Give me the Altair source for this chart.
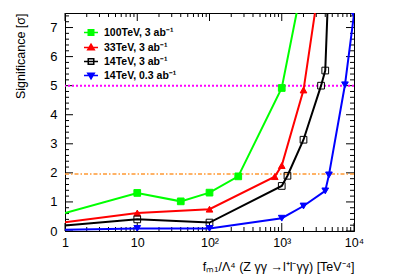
import altair as alt
import pandas as pd

# ---------------- data ----------------
series_names = ["100TeV, 3 ab⁻¹", "33TeV, 3 ab⁻¹", "14TeV, 3 ab⁻¹", "14TeV, 0.3 ab⁻¹"]
colors = ["#00ff00", "#ff0000", "#000000", "#0000ff"]
fills = ["#00ff00", "#ff0000", "transparent", "#0000ff"]
marker_shapes = ["square", "triangle-up", "square", "triangle-down"]
legend_paths = [
    "M-1.4,0H1.4M-0.55,-0.55H0.55V0.55H-0.55Z",
    "M-1.4,0H1.4M0,-0.65L0.65,0.45L-0.65,0.45Z",
    "M-1.4,0H1.4M-0.55,-0.55H0.55V0.55H-0.55Z",
    "M-1.4,0H1.4M0,0.65L0.65,-0.45L-0.65,-0.45Z",
]

x_100 = [1, 10, 40, 100, 250, 1000, 2000]
y_100 = [0.62, 1.31, 1.02, 1.32, 1.88, 4.92, 8.7]
x_33 = [1, 10, 100, 800, 1000, 2000, 3000]
y_33 = [0.30, 0.62, 0.75, 1.87, 2.25, 4.85, 7.8]
x_14 = [1, 10, 100, 1000, 1200, 2000, 3500, 4000, 5000]
y_14 = [0.19, 0.40, 0.29, 1.55, 1.90, 3.14, 5.0, 5.52, 11.9]
x_14l = [1, 10, 100, 1000, 2000, 4000, 4500, 7500, 10000]
y_14l = [0.04, 0.09, 0.09, 0.44, 0.86, 1.38, 1.93, 5.03, 7.45]

ref_5sigma = [5.0]
ref_95cl = [1.96]

x_tick_values = [1, 10, 100, 1000, 10000]
y_major_ticks = [0, 1, 2, 3, 4, 5, 6, 7]
y_minor_ticks = [round(0.2 * i, 1) for i in range(0, 38) if i % 5 != 0]
x_major_ticks = [1, 10, 100, 1000, 10000]
x_minor_ticks = [m * 10 ** d for d in range(4) for m in range(2, 10)]

# ---------------- frames ----------------
rows = []
for name, xs, ys in [(series_names[0], x_100, y_100), (series_names[1], x_33, y_33),
                     (series_names[2], x_14, y_14), (series_names[3], x_14l, y_14l)]:
    for i, (xv, yv) in enumerate(zip(xs, ys)):
        rows.append({"series": name, "lg": name, "x": xv, "y": yv, "i": i})
df = pd.DataFrame(rows)
df_pts = df[df["x"] > 1]

W, H = 289, 218
FONT = "Liberation Sans"

xscale = alt.Scale(type="log", domain=[1, 10000], nice=False)
yscale = alt.Scale(domain=[0, 7.5], nice=False, zero=False)

xaxis = alt.Axis(
    values=x_tick_values,
    labelExpr="datum.value == 1 ? '1' : datum.value == 10 ? '10' : datum.value == 100 ? '10²' : datum.value == 1000 ? '10³' : '10⁴'",
    ticks=False, grid=False, labelPadding=5, labelFontSize=12.5, labelFont=FONT,
    labelColor="black", domainColor="black", labelFlush=False,
    title="fₘ₁/Λ⁴ (Z γγ →l⁺l⁻γγ) [TeV⁻⁴]", titleFont=FONT, titleFontSize=12.5,
    titleFontWeight="normal", titleColor="black", titleX=W, titleY=35,
    titleAlign="right", titleBaseline="middle",
)
yaxis = alt.Axis(
    values=y_major_ticks, ticks=False, grid=False, labelPadding=8, labelFontSize=13,
    labelFont=FONT, labelColor="black", domainColor="black",
    title="Significance [σ]", titleFont=FONT, titleFontSize=12.5,
    titleFontWeight="normal", titleColor="black", titleX=-45, titleY=0,
    titleAngle=270, titleAlign="right", titleBaseline="middle",
)

def X(field="x"):
    return alt.X(f"{field}:Q", scale=xscale, axis=xaxis)

def Y(field="y"):
    return alt.Y(f"{field}:Q", scale=yscale, axis=yaxis)

color_scale = alt.Scale(domain=series_names, range=colors)

lines = alt.Chart(df).mark_line(clip=True, strokeWidth=2).encode(
    x=X(), y=Y(),
    color=alt.Color("series:N", scale=color_scale, legend=None),
    order=alt.Order("i:Q"),
)

points = alt.Chart(df_pts).mark_point(clip=True, filled=True, size=45, strokeWidth=1, opacity=1).encode(
    x=X(), y=Y(),
    stroke=alt.Stroke("series:N", scale=color_scale, legend=None),
    fill=alt.Fill("series:N", scale=alt.Scale(domain=series_names, range=fills), legend=None),
    shape=alt.Shape("series:N", scale=alt.Scale(domain=series_names, range=marker_shapes), legend=None),
)

def lg_legend():
    return alt.Legend(orient="none", legendX=20, legendY=13.5, title=None,
                      labelFontSize=10.5, labelFont=FONT, labelFontWeight="bold",
                      labelColor="black",
                      symbolSize=100, rowPadding=2, padding=0, labelOffset=7,
                      symbolOpacity=1, symbolStrokeWidth=1.5)

legend_layer = alt.Chart(df_pts).mark_point(filled=True, opacity=0, size=100).encode(
    x=X(), y=Y(),
    stroke=alt.Stroke("lg:N", scale=alt.Scale(domain=series_names, range=colors), legend=lg_legend()),
    shape=alt.Shape("lg:N", scale=alt.Scale(domain=series_names, range=legend_paths), legend=lg_legend()),
    fill=alt.Fill("lg:N", scale=alt.Scale(domain=series_names, range=fills), legend=lg_legend()),
)

line5 = alt.Chart(pd.DataFrame({"y": ref_5sigma})).mark_rule(
    color="#ff00ff", strokeWidth=2, strokeDash=[2, 2]).encode(y=Y())
line2 = alt.Chart(pd.DataFrame({"y": ref_95cl})).mark_rule(
    color="#ff9933", strokeWidth=1.5, strokeDash=[4, 2, 1.5, 2]).encode(y=Y())

def yticks(vals, length):
    d = pd.DataFrame({"y": vals})
    left = alt.Chart(d).mark_rule(color="black", strokeWidth=1).encode(
        y=Y(), x=alt.value(0), x2=alt.value(length))
    right = alt.Chart(d).mark_rule(color="black", strokeWidth=1).encode(
        y=Y(), x=alt.value(W), x2=alt.value(W - length))
    return [left, right]

def xticks(vals, length):
    d = pd.DataFrame({"x": vals})
    bottom = alt.Chart(d).mark_rule(color="black", strokeWidth=1).encode(
        x=X(), y=alt.value(H), y2=alt.value(H - length))
    top = alt.Chart(d).mark_rule(color="black", strokeWidth=1).encode(
        x=X(), y=alt.value(0), y2=alt.value(length))
    return [bottom, top]

ticks = yticks(y_major_ticks, 8) + yticks(y_minor_ticks, 4) + xticks(x_major_ticks, 8) + xticks(x_minor_ticks, 4)

chart = alt.layer(
    *ticks, line2, line5, lines, points, legend_layer
).resolve_scale(
    color="independent", shape="independent", fill="independent", stroke="independent"
).properties(
    width=W, height=H,
    padding={"left": 57, "top": 5, "right": 45, "bottom": 45},
    autosize=alt.AutoSizeParams(type="none"),
    background="white",
).configure_view(stroke="black", strokeWidth=1)

chart.save("out.html", embed_options={"renderer": "svg", "actions": False})
